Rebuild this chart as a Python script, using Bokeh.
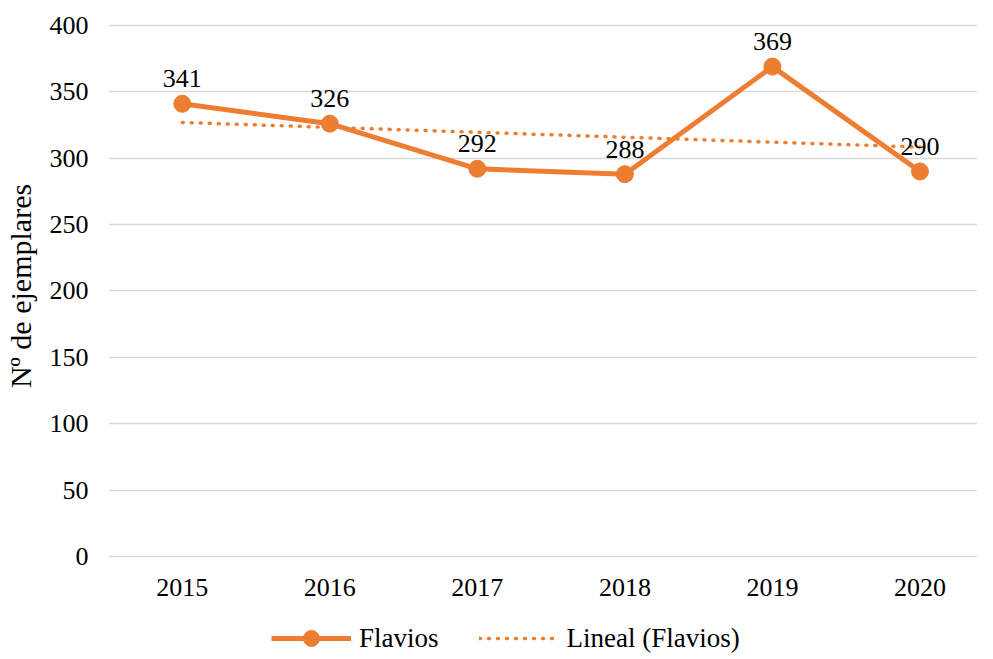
import numpy as np
from bokeh.plotting import figure
from bokeh.layouts import column
from bokeh.models import ColumnDataSource, FixedTicker, Legend, LegendItem, Range1d
from bokeh.core.properties import value
from bokeh.embed import file_html
from bokeh.resources import INLINE

years = [2015, 2016, 2017, 2018, 2019, 2020]
year_labels = ["2015", "2016", "2017", "2018", "2019", "2020"]
flavios = [341, 326, 292, 288, 369, 290]
y_ticks = [0, 50, 100, 150, 200, 250, 300, 350, 400]
series_name = "Flavios"
trend_name = "Lineal (Flavios)"
y_title = "Nº de ejemplares"

# linear trend computed from the data (as Excel's "Lineal" trendline)
coef = np.polyfit(np.arange(1, len(flavios) + 1), flavios, 1)
trend = list(np.polyval(coef, np.arange(1, len(flavios) + 1)))

ORANGE = "#ED7D31"
FONT = "Liberation Serif"

p = figure(width=977, height=608, output_backend="svg", toolbar_location=None,
           x_range=Range1d(2014.5, 2020.39), y_range=Range1d(-1.5, 409),
           min_border_left=106, min_border_right=0, min_border_top=13,
           min_border_bottom=50)
p.outline_line_color = None
p.background_fill_color = "white"
p.border_fill_color = "white"

src = ColumnDataSource(dict(x=years, y=flavios, lab=[str(v) for v in flavios]))
tsrc = ColumnDataSource(dict(x=years, y=trend))

TREND_STYLE = dict(line_color=ORANGE, line_width=3.5, line_dash="1 8", line_cap="round")
LINE_STYLE = dict(line_color=ORANGE, line_width=5, line_join="round")
DOT_STYLE = dict(fill_color=ORANGE, line_color=ORANGE)

p.line("x", "y", source=tsrc, **TREND_STYLE)
p.line("x", "y", source=src, **LINE_STYLE)
p.scatter("x", "y", source=src, size=17, **DOT_STYLE)
p.text("x", "y", text="lab", source=src, text_align="center",
       text_baseline="alphabetic", y_offset=-25, text_font=value(FONT),
       text_font_size="26px", text_color="#000000")

p.xgrid.visible = False
p.ygrid.grid_line_color = "#D9D9D9"
p.ygrid.grid_line_width = 1.5
p.ygrid.ticker = FixedTicker(ticks=y_ticks)

p.yaxis.ticker = FixedTicker(ticks=y_ticks)
p.xaxis.ticker = FixedTicker(ticks=years)
p.xaxis.major_label_overrides = {y: l for y, l in zip(years, year_labels)}
for ax in (p.xaxis, p.yaxis):
    ax.axis_line_color = None
    ax.major_tick_line_color = None
    ax.minor_tick_line_color = None
    ax.major_tick_out = 0
    ax.major_tick_in = 0
    ax.major_label_text_font = FONT
    ax.major_label_text_font_size = "26px"
    ax.major_label_text_color = "#000000"
p.yaxis.major_label_standoff = 20
p.xaxis.major_label_standoff = 20
p.yaxis.axis_label = y_title
p.yaxis.axis_label_text_font = FONT
p.yaxis.axis_label_text_font_size = "30px"
p.yaxis.axis_label_text_font_style = "normal"
p.yaxis.axis_label_text_color = "#000000"
p.yaxis.axis_label_standoff = 10

# legend strip below the chart (placeholder renderers hold one NaN point, so nothing is drawn)
lg = figure(width=977, height=50, output_backend="svg", toolbar_location=None,
            x_axis_type=None, y_axis_type=None, x_range=Range1d(0, 1), y_range=Range1d(0, 1),
            min_border_left=0, min_border_right=0, min_border_top=0, min_border_bottom=0)
lg.outline_line_color = None
lg.xgrid.visible = False
lg.ygrid.visible = False
placeholder = ColumnDataSource(dict(x=[np.nan], y=[np.nan]))
l_ln = lg.line("x", "y", source=placeholder, **LINE_STYLE)
l_ci = lg.scatter("x", "y", source=placeholder, size=17, **DOT_STYLE)
l_tr = lg.line("x", "y", source=placeholder, **TREND_STYLE)

legend = Legend(items=[LegendItem(label=series_name, renderers=[l_ln, l_ci]),
                       LegendItem(label=trend_name, renderers=[l_tr])],
                orientation="horizontal", location=(163, 0))
legend.label_text_font = FONT
legend.label_text_font_size = "27px"
legend.label_text_color = "#000000"
legend.glyph_width = 80
legend.glyph_height = 40
legend.spacing = 40
legend.label_standoff = 8
legend.border_line_color = None
legend.background_fill_alpha = 0
legend.margin = 0
legend.padding = 2
lg.add_layout(legend, "center")

page = column(p, lg, spacing=0)
open("out.html", "w").write(file_html(page, INLINE))
